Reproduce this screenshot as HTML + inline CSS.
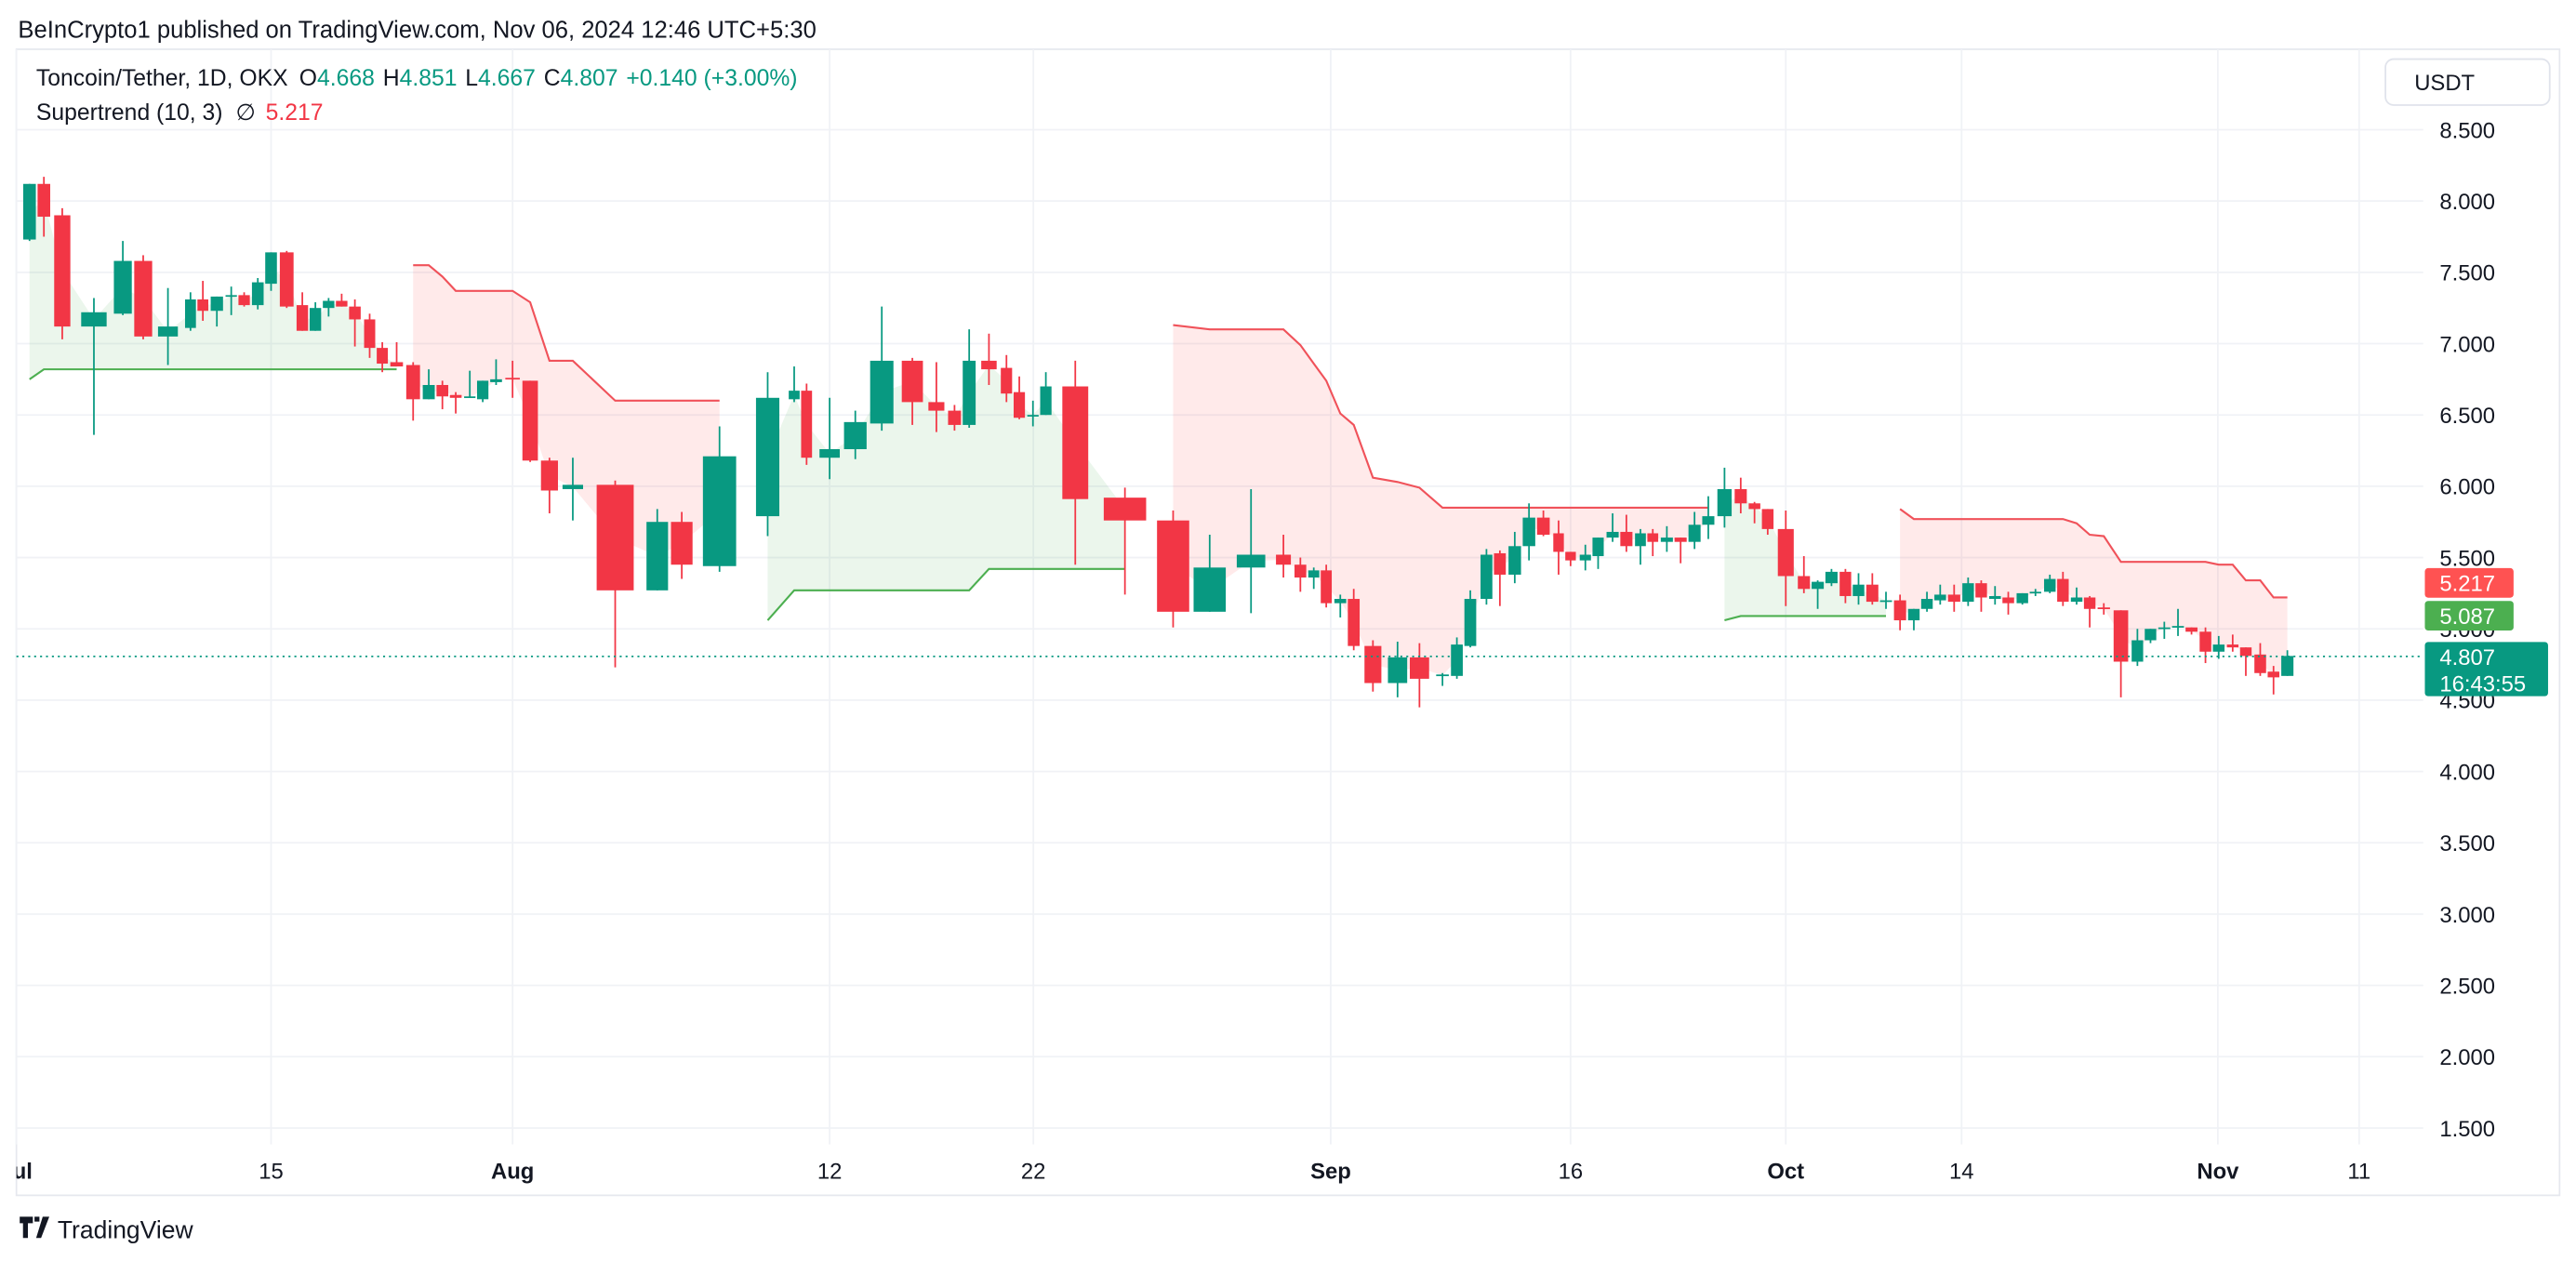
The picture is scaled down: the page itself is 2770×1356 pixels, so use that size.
<!DOCTYPE html>
<html><head><meta charset="utf-8">
<style>
html,body{margin:0;padding:0;background:#fff;}
svg{display:block;font-family:"Liberation Sans",Arial,sans-serif;}
</style></head>
<body>
<svg id="chart" width="2770" height="1356" viewBox="0 0 1568 768" preserveAspectRatio="none" xmlns="http://www.w3.org/2000/svg">
  <defs><clipPath id="plotclip"><rect x="10" y="30" width="1465" height="698"/></clipPath></defs>
  <text x="11" y="23" font-size="14.5" fill="#131722">BeInCrypto1 published on TradingView.com, Nov 06, 2024 12:46 UTC+5:30</text>
  <rect x="10" y="30" width="1548" height="698" fill="none" stroke="#e6e8ee" stroke-width="1"/>
  <g id="grid"></g>
  <g id="fills" clip-path="url(#plotclip)"></g>
  <g id="lines" clip-path="url(#plotclip)"></g>
  <g id="candles" clip-path="url(#plotclip)"></g>
  <line x1="10" x2="1475" y1="0" y2="0" id="lastline" stroke="#089981" stroke-width="1" stroke-dasharray="1.2 2.4"/>
  <g id="yaxis"></g>
  <g id="xaxis"></g>
  <g>
    <text x="22" y="52" font-size="14" fill="#131722">Toncoin/Tether, 1D, OKX <tspan dx="3">O</tspan><tspan fill="#089981">4.668</tspan><tspan dx="5">H</tspan><tspan fill="#089981">4.851</tspan><tspan dx="5">L</tspan><tspan fill="#089981">4.667</tspan><tspan dx="5">C</tspan><tspan fill="#089981">4.807</tspan><tspan dx="5" fill="#089981">+0.140 (+3.00%)</tspan></text>
    <text x="22" y="73" font-size="14" fill="#131722">Supertrend (10, 3) <tspan dx="4">∅</tspan><tspan dx="6" fill="#f23645">5.217</tspan></text>
  </g>
  <g>
    <rect x="1452" y="36" width="100" height="28" rx="5" fill="#fff" stroke="#e0e3eb"/>
    <text x="1488" y="55" font-size="13.5" fill="#131722" text-anchor="middle">USDT</text>
  </g>
  <g id="badges"></g>
  <g>
    <path d="M12 741h8v4h-3v9h-3v-9h-2z M21 741h3v3h-3z M26 741h4l-5 13h-3z" fill="#131722"/>
    <text x="35" y="754" font-size="15" fill="#131722">TradingView</text>
  </g>
</svg>
<script>
// ---- data ----
const days = [0.72,1.51,2.52,4.26,5.85,6.97,8.33,9.57,10.25,11.02,11.81,12.52,13.27,14.0,15.10,16.20,17.12,18.05,18.97,19.90,20.94,21.83,22.84,24.0,25.10,26.06,27.0,27.99,28.90,29.84,31.0,31.61,32.28,33.09,34.56,36.02,36.87,38.18,39.85,40.77,41.20,42.0,43.26,44.56,46.06,47.24,48.13,48.85,49.82,50.68,51.31,51.98,52.42,53.41,55.08,56.70,57.93,59.32,60.41,60.98,61.43,61.85,62.60,63.44,64.64,66.18,67.55,68.99,69.89,70.73,71.74,72.58,73.51,74.40,75.30,76.25,77.0,78.03,78.92,79.93,80.89,81.87,82.73,83.71,84.67,85.64,86.60,87.73,88.86,89.82,90.74,92.0,93.34,94.36,95.38,96.41,97.38,98.40,99.41,100.45,101.47,102.44,103.42,104.45,105.46,106.38,107.35,108.28,109.27,110.19,111.20,112.12,113.08,114.0,114.99,116.19,117.35,118.27,119.24,120.20,121.15,122.13,123.06,124.05,124.98,126.0,126.94,127.92];
const opens = [7.73,8.12,7.90,7.12,7.21,7.58,7.05,7.11,7.31,7.23,7.33,7.34,7.27,7.42,7.64,7.27,7.09,7.25,7.30,7.26,7.17,6.97,6.87,6.85,6.61,6.71,6.64,6.62,6.61,6.73,6.76,6.74,6.18,5.98,6.01,5.27,5.75,5.44,5.79,6.61,6.67,6.20,6.26,6.44,6.88,6.59,6.53,6.43,6.88,6.83,6.66,6.50,6.50,6.70,5.92,5.76,5.12,5.43,5.52,5.45,5.36,5.41,5.18,5.21,4.88,4.62,4.80,4.67,4.67,4.88,5.21,5.53,5.38,5.58,5.78,5.67,5.54,5.48,5.51,5.64,5.68,5.58,5.67,5.61,5.64,5.61,5.73,5.79,5.98,5.88,5.84,5.70,5.37,5.28,5.32,5.40,5.23,5.31,5.19,5.20,5.06,5.14,5.20,5.24,5.19,5.32,5.21,5.22,5.18,5.25,5.26,5.35,5.19,5.22,5.15,5.13,4.77,4.92,5.00,5.01,5.01,4.98,4.84,4.89,4.87,4.82,4.70,4.67];
const closes = [8.12,7.89,7.12,7.22,7.58,7.05,7.12,7.31,7.23,7.33,7.34,7.27,7.43,7.64,7.26,7.09,7.25,7.30,7.26,7.17,6.97,6.86,6.84,6.61,6.71,6.63,6.62,6.63,6.74,6.75,6.75,6.18,5.97,6.01,5.27,5.75,5.45,6.21,6.62,6.67,6.20,6.26,6.45,6.88,6.59,6.53,6.43,6.88,6.82,6.65,6.48,6.50,6.70,5.91,5.76,5.12,5.43,5.52,5.45,5.36,5.41,5.18,5.21,4.88,4.62,4.80,4.65,4.68,4.89,5.21,5.52,5.38,5.58,5.78,5.66,5.54,5.48,5.52,5.64,5.68,5.58,5.67,5.61,5.64,5.61,5.73,5.79,5.98,5.88,5.84,5.70,5.37,5.28,5.33,5.40,5.23,5.31,5.19,5.20,5.06,5.14,5.21,5.24,5.19,5.32,5.22,5.23,5.18,5.25,5.26,5.35,5.19,5.22,5.14,5.14,4.77,4.92,5.00,5.01,5.02,4.98,4.84,4.89,4.87,4.81,4.69,4.66,4.81];
const highs = [8.12,8.17,7.95,7.32,7.72,7.62,7.39,7.36,7.44,7.33,7.40,7.36,7.46,7.64,7.65,7.36,7.29,7.32,7.35,7.31,7.21,7.01,7.01,6.87,6.82,6.74,6.66,6.81,6.74,6.89,6.88,6.74,6.20,6.20,6.04,5.84,5.82,6.42,6.80,6.84,6.72,6.62,6.53,7.26,6.90,6.87,6.57,7.10,7.07,6.92,6.77,6.60,6.80,6.88,5.99,5.83,5.66,5.98,5.66,5.50,5.43,5.45,5.24,5.28,4.92,4.91,4.90,4.69,4.94,5.27,5.56,5.55,5.68,5.88,5.83,5.76,5.54,5.59,5.64,5.81,5.80,5.70,5.70,5.72,5.64,5.82,5.93,6.13,6.06,5.89,5.84,5.83,5.51,5.34,5.42,5.42,5.39,5.39,5.26,5.24,5.14,5.26,5.31,5.31,5.36,5.34,5.30,5.26,5.25,5.28,5.38,5.40,5.29,5.23,5.18,5.13,5.00,5.00,5.05,5.14,5.01,5.01,4.95,4.96,4.87,4.90,4.74,4.85];
const lows = [7.72,7.75,7.03,6.36,7.20,7.03,6.85,7.09,7.16,7.12,7.20,7.26,7.24,7.37,7.25,7.09,7.09,7.19,7.26,6.98,6.90,6.80,6.84,6.46,6.61,6.54,6.51,6.62,6.59,6.71,6.62,6.17,5.81,5.76,4.73,5.27,5.35,5.40,5.65,6.59,6.15,6.05,6.19,6.39,6.43,6.38,6.39,6.41,6.71,6.59,6.47,6.42,6.50,5.45,5.24,5.01,5.12,5.11,5.36,5.26,5.28,5.15,5.08,4.85,4.56,4.52,4.45,4.60,4.65,4.87,5.17,5.16,5.32,5.48,5.65,5.38,5.44,5.41,5.42,5.61,5.54,5.45,5.51,5.54,5.46,5.56,5.63,5.71,5.81,5.74,5.66,5.16,5.25,5.14,5.30,5.18,5.17,5.17,5.14,4.99,4.99,5.12,5.17,5.12,5.16,5.12,5.17,5.10,5.17,5.23,5.25,5.16,5.17,5.01,5.10,4.52,4.74,4.90,4.93,4.95,4.96,4.76,4.79,4.84,4.67,4.67,4.54,4.67];
const stValues = [6.75,6.82,6.82,6.82,6.82,6.82,6.82,6.82,6.82,6.82,6.82,6.82,6.82,6.82,6.82,6.82,6.82,6.82,6.82,6.82,6.82,6.82,6.82,7.55,7.55,7.47,7.37,7.37,7.37,7.37,7.37,7.29,6.88,6.88,6.60,6.60,6.60,6.60,5.06,5.27,5.27,5.27,5.27,5.27,5.27,5.27,5.27,5.27,5.42,5.42,5.42,5.42,5.42,5.42,5.42,7.13,7.10,7.10,7.10,6.99,6.86,6.74,6.51,6.43,6.06,6.03,5.99,5.85,5.85,5.85,5.85,5.85,5.85,5.85,5.85,5.85,5.85,5.85,5.85,5.85,5.85,5.85,5.85,5.85,5.85,5.85,5.85,5.06,5.09,5.09,5.09,5.09,5.09,5.09,5.09,5.09,5.09,5.09,5.09,5.84,5.77,5.77,5.77,5.77,5.77,5.77,5.77,5.77,5.77,5.77,5.77,5.77,5.74,5.66,5.65,5.47,5.47,5.47,5.47,5.47,5.47,5.47,5.45,5.45,5.34,5.34,5.22,5.22];
const stRunLengths = [23,15,17,32,12,29];
const stRunDirs = ["u","d","u","d","u","d"];
const priceTicks = [8.5,8.0,7.5,7.0,6.5,6.0,5.5,5.0,4.5,4.0,3.5,3.0,2.5,2.0,1.5];
const timeTickDays = [0,14,31,42,52,62,77,92,105,123,133];
const timeTickLabels = ["Jul","15","Aug","12","22","Sep","16","Oct","14","Nov","11"];
const timeTickBold = [1,0,1,0,0,1,0,1,0,1,0];
const lastPrice = 4.807, stLast = 5.217, stPrev = 5.087;

// ---- axes ----
const axisDays = [0,14,31,42,52,62,77,92,105,123,133];
const axisPx = [10,165,312,505,629,810,956,1087,1194,1350,1436];
function xScale(d){
  for(let i=0;i<axisDays.length-1;i++){
    if(d<=axisDays[i+1]||i===axisDays.length-2){
      const t=(d-axisDays[i])/(axisDays[i+1]-axisDays[i]);
      return axisPx[i]+t*(axisPx[i+1]-axisPx[i]);
    }
  }
}
function yScale(p){ return 79+(8.5-p)*86.857; }
const NS="http://www.w3.org/2000/svg";
function mk(tag,attrs,parent){const e=document.createElementNS(NS,tag);for(const k in attrs)e.setAttribute(k,attrs[k]);parent.appendChild(e);return e;}

const grid=document.getElementById('grid');
priceTicks.forEach(p=>{
  const l=mk('line',{x1:10,x2:1475,y1:yScale(p),y2:yScale(p),stroke:'#f0f2f6','stroke-width':1},grid);
  
  
});
timeTickDays.forEach(d=>{
  const l=mk('line',{x1:xScale(d),x2:xScale(d),y1:30,y2:697,stroke:'#f0f2f6','stroke-width':1},grid);
  
  
});
const yaxis=document.getElementById('yaxis');
priceTicks.forEach(p=>{
  const t=mk('text',{x:1485,y:yScale(p)+5,'font-size':13.5,fill:'#131722'},yaxis);
  t.textContent=p.toFixed(3);
  
  
});
const xaxis=document.getElementById('xaxis');
timeTickDays.forEach((d,i)=>{
  const t=mk('text',{x:xScale(d),y:718,'font-size':13.5,fill:'#131722','text-anchor':'middle','font-weight':timeTickBold[i]?'bold':'normal','clip-path':'url(#plotclip)'},xaxis);
  t.textContent=timeTickLabels[i];
  
  
});

// ---- supertrend fills & lines ----
const fills=document.getElementById('fills'), lines=document.getElementById('lines');
let segStart=0;
stRunLengths.forEach((len,r)=>{
  const end=Math.min(days.length,segStart+len);
  const up=stRunDirs[r]==='u';
  let top=[],bot=[];
  for(let j=segStart;j<end;j++){
    top.push(xScale(days[j])+','+yScale(stValues[j]));
    bot.unshift(xScale(days[j])+','+yScale((opens[j]+closes[j])/2));
  }
  const poly=mk('polygon',{points:top.concat(bot).join(' '),fill:up?'rgba(76,175,80,0.11)':'rgba(255,82,82,0.12)'},fills);
  
  
  const pl=mk('polyline',{points:top.join(' '),fill:'none',stroke:up?'#4caf50':'#f0525a','stroke-width':1.2},lines);
  
  
  segStart=end;
});

// ---- candles ----
const cg=document.getElementById('candles');
for(let i=0;i<days.length;i++){
  const x=xScale(days[i]);
  const gl=i>0?x-xScale(days[i-1]):99, gr=i<days.length-1?xScale(days[i+1])-x:99;
  const w=Math.max(4.5,Math.min(gl,gr)*0.88);
  const up=closes[i]>=opens[i], col=up?'#089981':'#f23645';
  const g=mk('g',{},cg);
  
  
  mk('line',{x1:x,x2:x,y1:yScale(highs[i]),y2:yScale(lows[i]),stroke:col,'stroke-width':1},g);
  const yt=yScale(Math.max(opens[i],closes[i])), yb=yScale(Math.min(opens[i],closes[i]));
  mk('rect',{x:x-w/2,y:yt,width:w,height:Math.max(1,yb-yt),fill:col},g);
}

// ---- last price line & badges ----
const ll=document.getElementById('lastline');
ll.setAttribute('y1',yScale(lastPrice));ll.setAttribute('y2',yScale(lastPrice));
const bg=document.getElementById('badges');
function badge(name,val,color,yc,h,extra){
  const g=mk('g',{},bg);
  
  
  mk('rect',{x:1476,y:yc-9,width:extra?75:54,height:h,rx:2,fill:color},g);
  const t=mk('text',{x:1485,y:yc+5,'font-size':13.5,fill:'#fff'},g);t.textContent=val.toFixed(3);
  if(extra){const t2=mk('text',{x:1485,y:yc+21,'font-size':13.5,fill:'#fff'},g);t2.textContent=extra;}
}
badge('supertrend-badge',stLast,'#ff5252',355,18);
badge('supertrend-prev-badge',stPrev,'#4caf50',375,18);
badge('last-price-badge',lastPrice,'#089981',400,33,'16:43:55');
</script>
</body></html>
